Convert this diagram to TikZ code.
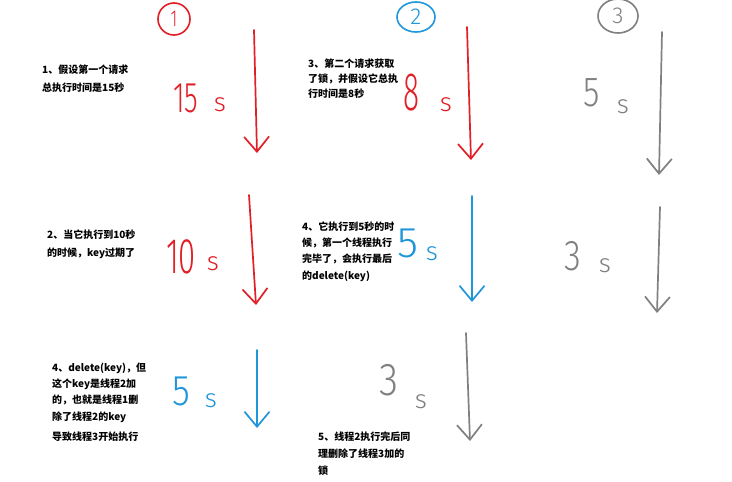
\documentclass[tikz,border=0pt]{standalone}
\usepackage{fontspec}
\newfontfamily\cjk{Noto Sans CJK SC}
\newfontfamily\hand{Fira Sans Light}
\usetikzlibrary{arrows.meta,shapes.geometric}
\definecolor{hred}{RGB}{226,30,38}
\definecolor{hblue}{RGB}{32,150,218}
\definecolor{hgray}{RGB}{128,128,128}
\begin{document}
\begin{tikzpicture}[x=1pt,y=-1pt,
  txt/.style={anchor=north west,inner sep=0,align=left,font=\cjk\bfseries\fontsize{10}{16.3}\selectfont},
  hw/.style={anchor=base,inner sep=0,font=\hand\fontsize{#1}{#1}\selectfont},
  harrow/.style={draw=#1,line width=1.7pt,line cap=round,-{Straight Barb[length=15pt,width=25pt,line width=1.7pt]}},
  cnum/.style={ellipse,draw=#1,text=#1,line width=1.6pt,inner sep=0,font=\hand\fontsize{23}{23}\selectfont}
]
\fill[white] (0,0) rectangle (732,482);
\useasboundingbox (0,0) rectangle (732,482);

% circled thread numbers
\node[cnum=hred,minimum width=32pt,minimum height=32pt] (c1) at (174,19) {\scalebox{0.7}[1]{1}};
\node[cnum=hblue,minimum width=38pt,minimum height=30pt] (c2) at (416,17) {2};
\node[cnum=hgray,minimum width=40pt,minimum height=34pt] (c3) at (618,16) {3};

% arrow coordinates
\coordinate (a1s) at (254,30);  \coordinate (a1e) at (257,153);
\coordinate (a2s) at (249,195); \coordinate (a2e) at (256,305);
\coordinate (a3s) at (257,350); \coordinate (a3e) at (257,428);
\coordinate (b1s) at (467,27);  \coordinate (b1e) at (471,160);
\coordinate (b2s) at (472,196); \coordinate (b2e) at (472,302);
\coordinate (b3s) at (466,333); \coordinate (b3e) at (470,441);
\coordinate (d1s) at (662,32);  \coordinate (d1e) at (659,175);
\coordinate (d2s) at (660,207); \coordinate (d2e) at (657,313);

\draw[harrow=hred]  (a1s) -- (a1e);
\draw[harrow=hred]  (a2s) -- (a2e);
\draw[harrow=hblue] (a3s) -- (a3e);
\draw[harrow=hred]  (b1s) -- (b1e);
\draw[harrow=hblue] (b2s) -- (b2e);
\draw[harrow=hgray] (b3s) -- (b3e);
\draw[harrow=hgray] (d1s) -- (d1e);
\draw[harrow=hgray] (d2s) -- (d2e);

% handwritten durations
\node[hw=43,text=hred] (n1) at (186,112) {\scalebox{0.65}[1]{15}};
\node[hw=26,text=hred] (s1) at (220,111) {s};
\node[hw=54,text=hred] (n2) at (411,110) {\scalebox{0.55}[1]{8}};
\node[hw=26,text=hred] (s2) at (446,111) {s};
\node[hw=42,text=hgray] (n3) at (592,106) {\scalebox{0.8}[1]{5}};
\node[hw=26,text=hgray] (s3) at (623,113) {s};
\node[hw=50,text=hred] (n4) at (181,273) {\scalebox{0.62}[1]{10}};
\node[hw=26,text=hred] (s4) at (213,270) {s};
\node[hw=43,text=hblue] (n5) at (408,257) {5};
\node[hw=26,text=hblue] (s5) at (432,260) {s};
\node[hw=43,text=hgray] (n6) at (573,270) {\scalebox{0.8}[1]{3}};
\node[hw=26,text=hgray] (s6) at (605,272) {s};
\node[hw=43,text=hblue] (n7) at (181,405) {\scalebox{0.85}[1]{5}};
\node[hw=26,text=hblue] (s7) at (211,407) {s};
\node[hw=46,text=hgray] (n8) at (389,395) {\scalebox{0.85}[1]{3}};
\node[hw=26,text=hgray] (s8) at (421,408) {s};

% explanatory texts
\node[txt,font=\cjk\bfseries\fontsize{10}{18}\selectfont] (t1) at (42,64.5) {1、假设第一个请求\\总执行时间是15秒};
\node[txt,font=\cjk\bfseries\fontsize{10}{15}\selectfont] (t3) at (308,58.5) {3、第二个请求获取\\了锁，并假设它总执\\行时间是8秒};
\node[txt,font=\cjk\bfseries\fontsize{10}{18}\selectfont] (t2) at (47,229.5) {2、当它执行到10秒\\的时候，key过期了};
\node[txt] (t4) at (302,221.5) {4、它执行到5秒的时\\候，第一个线程执行\\完毕了，会执行最后\\的delete(key)};
\node[txt] (t6) at (52,362.5) {4、delete(key)，但\\这个key是线程2加\\的，也就是线程1删\\除了线程2的key\\[4pt]导致线程3开始执行};
\node[txt,font=\cjk\bfseries\fontsize{10}{17}\selectfont] (t5) at (318,431.5) {5、线程2执行完后同\\理删除了线程3加的\\锁};
\end{tikzpicture}
\end{document}
